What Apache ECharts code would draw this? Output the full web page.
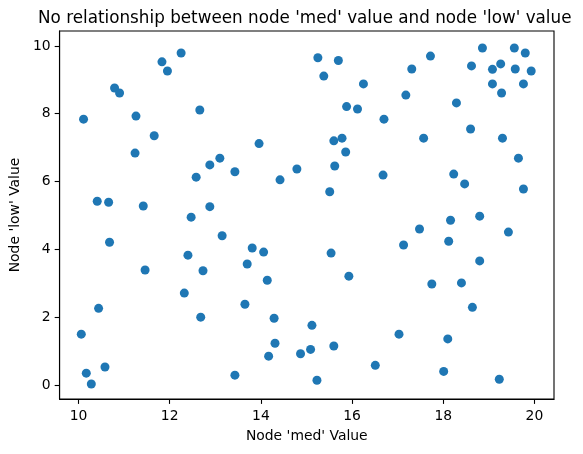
<!DOCTYPE html>
<html>
<head>
<meta charset="utf-8">
<script src="https://cdn.jsdelivr.net/npm/echarts@6/dist/echarts.min.js"></script>
<style>html,body{margin:0;padding:0;background:#fff}#c{width:583px;height:454px}</style>
</head>
<body>
<div id="c"></div>
<script>
const medValues = [12.25,11.83,11.95,10.79,10.90,10.11,11.26,12.66,11.66,11.24,13.10,12.88,12.58,10.41,10.66,11.42,12.88,12.47,13.15,10.68,12.40,11.46,12.73,12.32,10.44,12.68,10.06,10.58,10.17,10.28,
15.25,15.70,15.38,16.25,15.88,16.12,16.70,13.96,15.78,15.60,15.86,13.43,14.79,14.42,15.62,16.68,15.51,13.81,14.06,15.54,13.70,15.93,14.14,13.65,14.29,15.12,14.31,15.60,15.09,14.87,14.17,16.51,13.43,15.23,
18.86,19.56,19.80,17.72,19.26,18.62,19.08,19.58,17.31,19.93,19.08,19.76,19.28,17.18,18.29,18.60,17.57,19.30,19.65,18.23,18.47,19.76,18.80,18.16,17.48,19.43,17.13,18.12,18.80,17.75,18.40,18.64,17.03,18.10,18.01,19.23];
const lowValues = [9.79,9.53,9.26,8.76,8.61,7.84,7.93,8.11,7.35,6.84,6.69,6.49,6.13,5.42,5.39,5.28,5.26,4.95,4.40,4.21,3.83,3.39,3.37,2.71,2.26,2.00,1.50,0.53,0.35,0.03,
9.65,9.57,9.11,8.88,8.21,8.14,7.84,7.12,7.28,7.20,6.87,6.29,6.37,6.05,6.46,6.19,5.70,4.04,3.92,3.89,3.57,3.21,3.09,2.38,1.97,1.76,1.23,1.15,1.05,0.92,0.85,0.58,0.29,0.14,
9.94,9.94,9.79,9.70,9.47,9.41,9.31,9.32,9.32,9.26,8.88,8.88,8.61,8.55,8.32,7.55,7.28,7.28,6.69,6.22,5.93,5.78,4.98,4.86,4.60,4.51,4.13,4.24,3.66,2.98,3.01,2.29,1.50,1.36,0.40,0.17];
const xTicks = [10,12,14,16,18,20];
const yTicks = [0,2,4,6,8,10];
const titleText = "No relationship between node 'med' value and node 'low' value";
const xName = "Node 'med' Value";
const yName = "Node 'low' Value";

const points = medValues.map((v, i) => [v, lowValues[i]]);
const font = 'DejaVu Sans';
const chart = echarts.init(document.getElementById('c'), null, {renderer: 'canvas'});
const axisCommon = {
  type: 'value',
  nameLocation: 'middle',
  nameTextStyle: {fontFamily: font, fontSize: 13.9, color: '#000'},
  splitLine: {show: false},
  axisLine: {show: true, onZero: false, lineStyle: {color: '#000', width: 1.1}},
  axisTick: {show: true, inside: false, length: 4.9, lineStyle: {color: '#000', width: 1.1}},
  axisLabel: {fontFamily: font, fontSize: 13.9, color: '#000', margin: 9}
};
chart.setOption({
  animation: false,
  backgroundColor: '#fff',
  title: {
    text: titleText, left: 33, top: 5,
    textStyle: {fontFamily: font, fontSize: 16.8, fontWeight: 'normal', color: '#000'}
  },
  grid: {left: 58, right: 29, top: 31, bottom: 55, show: true, borderColor: '#000', borderWidth: 1.1, backgroundColor: 'transparent'},
  xAxis: Object.assign({}, axisCommon, {
    min: 9.584, max: 20.43, name: xName, nameGap: 30,
    axisTick: Object.assign({}, axisCommon.axisTick, {customValues: xTicks}),
    axisLabel: Object.assign({}, axisCommon.axisLabel, {customValues: xTicks, margin: 10})
  }),
  yAxis: Object.assign({}, axisCommon, {
    min: -0.413, max: 10.44, name: yName, nameGap: 32,
    axisTick: Object.assign({}, axisCommon.axisTick, {customValues: yTicks}),
    axisLabel: Object.assign({}, axisCommon.axisLabel, {customValues: yTicks})
  }),
  series: [{
    type: 'scatter', data: points, symbolSize: 9,
    itemStyle: {color: '#1f77b4', opacity: 1}
  }]
});
</script>
</body>
</html>
